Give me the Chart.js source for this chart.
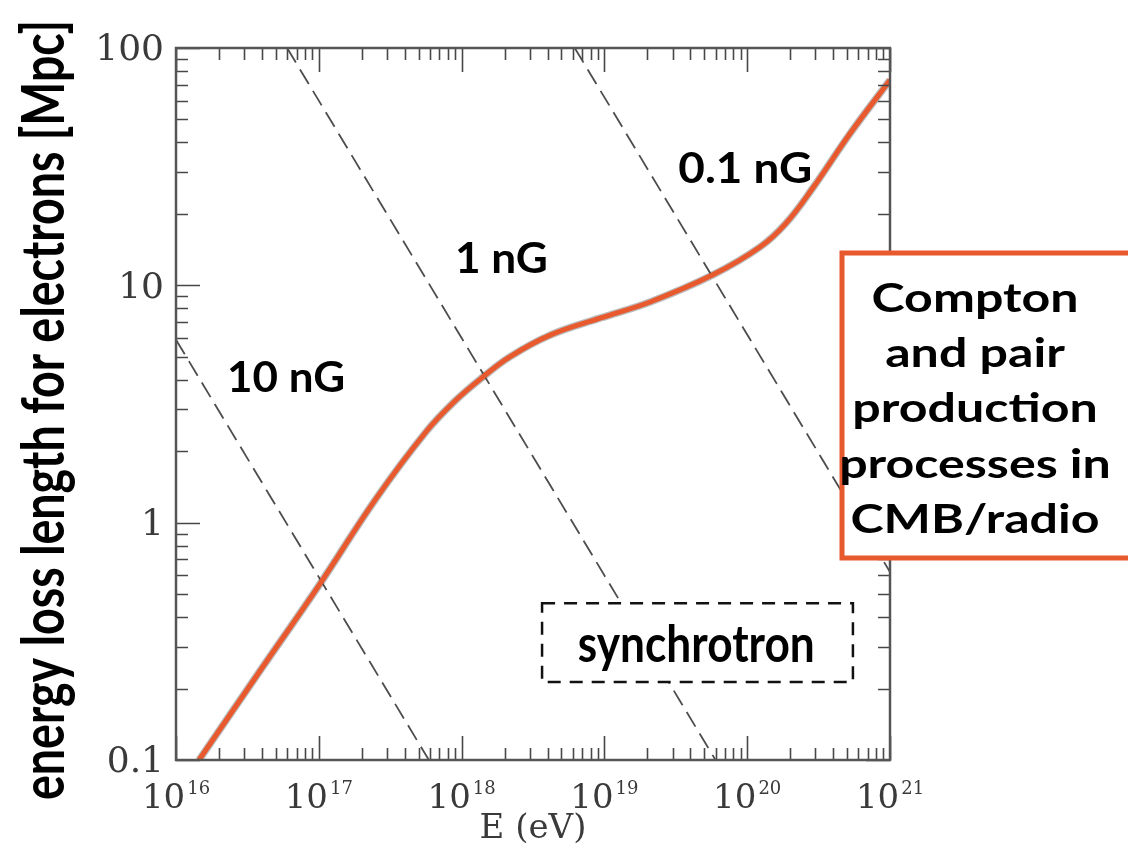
<!DOCTYPE html>
<html>
<head>
<meta charset="utf-8">
<script src="https://cdn.jsdelivr.net/npm/chart.js@4"></script>
<style>
  html, body { margin: 0; padding: 0; background: #fff; }
</style>
</head>
<body>
<canvas id="loss" width="1128" height="847"></canvas>
<script>
// Compton + pair production loss length of electrons (E in eV, L in Mpc)
const energyEV = [1.45e16, 3.98e16, 1e17, 2.51e17, 5.62e17, 8.91e17, 1.41e18, 2.19e18, 4.17e18, 9.33e18, 2.09e19, 5.75e19, 1.23e20, 1.86e20, 2.88e20, 5.25e20, 1e21];
const lossMpc  = [0.1, 0.243, 0.543, 1.26, 2.41, 3.24, 4.11, 5.01, 6.17, 7.28, 8.51, 11.07, 14.5, 18.2, 25.7, 43.6, 73.3];

// synchrotron loss length, L ~ 1/(E B^2): straight lines in log-log
const sync10nG_E = [1e16, 5.9e17];
const sync10nG_L = [5.9, 0.1];
const sync1nG_E  = [6.0e16, 6.0e19];
const sync1nG_L  = [100, 0.1];
const sync01nG_E = [6.2e18, 1e21];
const sync01nG_L = [100, 0.62];

// axis labels
const xDecades  = [16, 17, 18, 19, 20, 21];
const yTicks    = [0.1, 1, 10, 100];
const yTickText = ['0.1', '1', '10', '100'];
const xTitle = 'E (eV)';
const yTitle = 'energy loss length for electrons [Mpc]';

const fieldLabels = ['10 nG', '1 nG', '0.1 nG'];
const boxLines = ['Compton', 'and pair', 'production', 'processes in', 'CMB/radio'];

const ORANGE = '#e8592e';
const DASH_GREY = '#4d4d4d';

const pts = (xs, ys) => xs.map((x, i) => ({ x, y: ys[i] }));

// text squeezed/stretched horizontally to a given width
function fitText(ctx, text, cx, baseline, font, width) {
  ctx.save();
  ctx.font = font;
  const w = ctx.measureText(text).width;
  ctx.translate(cx, baseline);
  ctx.scale(width / w, 1);
  ctx.textAlign = 'center';
  ctx.textBaseline = 'alphabetic';
  ctx.fillText(text, 0, 0);
  ctx.restore();
}

const frame = {
  id: 'frame',
  afterDraw(chart) {
    const { ctx, chartArea: a } = chart;
    const xs = chart.scales.x, ys = chart.scales.y;

    // inward ticks on all four sides
    ctx.save();
    ctx.strokeStyle = '#474747';
    ctx.lineWidth = 1.6;
    ctx.beginPath();
    for (let n = 16; n <= 21; n++) {
      for (let k = 1; k <= 9; k++) {
        if (n === 21 && k > 1) break;
        const px = Math.round(xs.getPixelForValue(k * Math.pow(10, n))) + 0.5;
        const len = k === 1 ? 24 : 12;
        ctx.moveTo(px, a.bottom); ctx.lineTo(px, a.bottom - len);
        ctx.moveTo(px, a.top);    ctx.lineTo(px, a.top + len);
      }
    }
    for (let n = -1; n <= 2; n++) {
      for (let k = 1; k <= 9; k++) {
        if (n === 2 && k > 1) break;
        const py = Math.round(ys.getPixelForValue(k * Math.pow(10, n))) + 0.5;
        const len = k === 1 ? 24 : 12;
        ctx.moveTo(a.left, py);  ctx.lineTo(a.left + len, py);
        ctx.moveTo(a.right, py); ctx.lineTo(a.right - len, py);
      }
    }
    ctx.stroke();

    ctx.strokeStyle = '#555';
    ctx.lineWidth = 2.5;
    ctx.strokeRect(a.left, a.top, a.right - a.left, a.bottom - a.top);

    // tick labels
    ctx.fillStyle = '#3a3a3a';
    ctx.font = '36px "DejaVu Serif"';
    ctx.textAlign = 'right';
    ctx.textBaseline = 'middle';
    yTicks.forEach((v, i) => ctx.fillText(yTickText[i], 164, ys.getPixelForValue(v) + 3));

    ctx.textBaseline = 'alphabetic';
    ctx.textAlign = 'left';
    xDecades.forEach(n => {
      const px = xs.getPixelForValue(Math.pow(10, n));
      ctx.font = '34px "DejaVu Serif"';
      const wb = ctx.measureText('10').width;
      ctx.font = '18px "DejaVu Serif"';
      const we = ctx.measureText(String(n)).width;
      const x0 = px - (wb + 2 + we) / 2;
      ctx.font = '34px "DejaVu Serif"';
      ctx.fillText('10', x0, 808);
      ctx.font = '18px "DejaVu Serif"';
      ctx.fillText(String(n), x0 + wb + 2, 794);
    });

    ctx.font = '34px "DejaVu Serif"';
    ctx.textAlign = 'center';
    ctx.fillText(xTitle, (a.left + a.right) / 2, 838);

    // y axis title, rotated
    ctx.save();
    ctx.fillStyle = '#000';
    ctx.translate(64, 410);
    ctx.rotate(-Math.PI / 2);
    fitText(ctx, yTitle, 0, 0, 'bold 60px Lato', 780);
    ctx.restore();

    // field strength labels
    ctx.fillStyle = '#000';
    fitText(ctx, fieldLabels[0], xs.getPixelForValue(5.9e16), ys.getPixelForValue(3.55), 'bold 42px Lato', 118);
    fitText(ctx, fieldLabels[1], xs.getPixelForValue(1.9e18), ys.getPixelForValue(11.3), 'bold 42px Lato', 93);
    fitText(ctx, fieldLabels[2], xs.getPixelForValue(9.7e19), ys.getPixelForValue(27.0), 'bold 42px Lato', 134);

    // synchrotron box
    const bx0 = xs.getPixelForValue(3.66e18), bx1 = xs.getPixelForValue(5.5e20);
    const by0 = ys.getPixelForValue(0.458),   by1 = ys.getPixelForValue(0.213);
    ctx.fillStyle = '#fff';
    ctx.fillRect(bx0, by0, bx1 - bx0, by1 - by0);
    ctx.setLineDash([13, 9]);
    ctx.strokeStyle = '#111';
    ctx.lineWidth = 2.5;
    ctx.strokeRect(bx0, by0, bx1 - bx0, by1 - by0);
    ctx.setLineDash([]);
    ctx.fillStyle = '#000';
    fitText(ctx, 'synchrotron', xs.getPixelForValue(4.4e19), ys.getPixelForValue(0.259), 'bold 52px Lato', 237);

    // Compton / pair production box, sticking out past the frame
    ctx.fillStyle = '#fff';
    ctx.fillRect(842, 253, 300, 305);
    ctx.strokeStyle = ORANGE;
    ctx.lineWidth = 5;
    ctx.strokeRect(842, 253, 300, 305);
    ctx.fillStyle = '#000';
    ctx.font = 'bold 40px Lato';
    const sx = 207 / ctx.measureText(boxLines[0]).width;
    boxLines.forEach((t, i) => {
      const w = ctx.measureText(t).width * sx;
      fitText(ctx, t, 975, 312 + i * 55.2, 'bold 40px Lato', w);
    });
    ctx.restore();
  }
};

const curveStyle = { pointRadius: 0, tension: 0.4 };

new Chart(document.getElementById('loss'), {
  type: 'line',
  data: {
    datasets: [
      { label: '10 nG', data: pts(sync10nG_E, sync10nG_L), borderColor: DASH_GREY, borderWidth: 1.8, borderDash: [17, 8], pointRadius: 0, order: 3 },
      { label: '1 nG', data: pts(sync1nG_E, sync1nG_L), borderColor: DASH_GREY, borderWidth: 1.8, borderDash: [17, 8], pointRadius: 0, order: 3 },
      { label: '0.1 nG', data: pts(sync01nG_E, sync01nG_L), borderColor: DASH_GREY, borderWidth: 1.8, borderDash: [17, 8], pointRadius: 0, order: 3 },
      { label: 'shadow', data: pts(energyEV, lossMpc), borderColor: 'rgba(60,60,60,0.35)', borderWidth: 7.5, order: 2, ...curveStyle },
      { label: 'Compton + pair', data: pts(energyEV, lossMpc), borderColor: ORANGE, borderWidth: 5, order: 1, ...curveStyle }
    ]
  },
  options: {
    responsive: false,
    animation: false,
    devicePixelRatio: 1,
    layout: { padding: { top: 48, right: 238, left: 0, bottom: 0 } },
    plugins: { legend: { display: false }, tooltip: { enabled: false } },
    scales: {
      x: {
        type: 'logarithmic', min: 1e16, max: 1e21,
        grid: { display: false }, border: { display: false }, ticks: { display: false },
        afterFit: s => { s.height = 87; }
      },
      y: {
        type: 'logarithmic', min: 0.1, max: 100,
        grid: { display: false }, border: { display: false }, ticks: { display: false },
        afterFit: s => { s.width = 176; }
      }
    }
  },
  plugins: [frame]
});
</script>
</body>
</html>
